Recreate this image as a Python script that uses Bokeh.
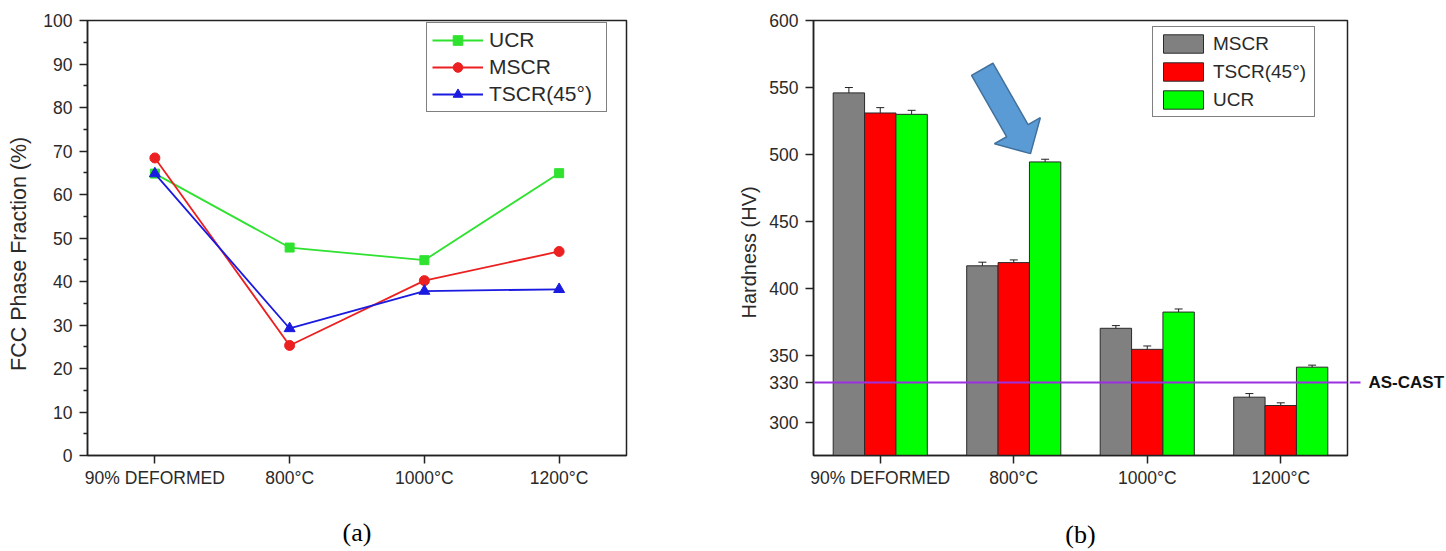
from bokeh.plotting import figure
from bokeh.layouts import row
from bokeh.models import (Range1d, FixedTicker, Legend, LegendItem, ColumnDataSource,
                          Whisker, TeeHead, Span)
from bokeh.embed import file_html
from bokeh.resources import INLINE
from bokeh.core.properties import value
import math

# ---------------- data ----------------
categories = ["90% DEFORMED", "800°C", "1000°C", "1200°C"]

# (a) FCC phase fraction (%)
fcc_ucr = [64.8, 47.8, 44.9, 64.9]
fcc_mscr = [68.4, 25.3, 40.2, 46.9]
fcc_tscr = [64.8, 29.2, 37.8, 38.2]
fcc_yticks = [0, 10, 20, 30, 40, 50, 60, 70, 80, 90, 100]

# (b) Hardness (HV)
hv_mscr = [546, 417, 370.4, 319]
hv_tscr = [531, 419.4, 354.7, 312.8]
hv_ucr = [530, 494.5, 382.5, 341.4]
hv_mscr_err = [4, 2.7, 2, 2.7]
hv_tscr_err = [4, 2, 2.5, 2]
hv_ucr_err = [3, 2, 2.3, 1.5]
hv_yticks = [300, 330, 350, 400, 450, 500, 550, 600]
AS_CAST = 330

FONT = "Liberation Sans"
SERIF = "Liberation Serif"
AX = "#222222"
TXT = "#2a2a2a"
H = 551

cat_x = list(range(len(categories)))
cat_labels = {i: c for i, c in enumerate(categories)}


def base_style(p):
    p.xgrid.visible = False
    p.ygrid.visible = False
    p.outline_line_color = AX
    p.outline_line_width = 1.5
    p.outline_line_alpha = 1.0
    p.background_fill_color = "white"
    p.border_fill_color = "white"
    for ax in p.xaxis + p.yaxis:
        ax.axis_line_color = AX
        ax.axis_line_width = 1.5
        ax.major_tick_line_color = AX
        ax.major_tick_line_width = 1.5
        ax.major_tick_out = 8
        ax.major_tick_in = 0
        ax.minor_tick_line_color = AX
        ax.minor_tick_line_width = 1.5
        ax.minor_tick_out = 4
        ax.minor_tick_in = 0
        ax.major_label_text_font = FONT
        ax.major_label_text_font_size = "17.5px"
        ax.major_label_text_color = TXT
    p.xaxis.ticker = FixedTicker(ticks=cat_x)
    p.xaxis.major_label_overrides = cat_labels
    p.xaxis.minor_tick_line_color = None
    p.xaxis.major_label_standoff = 4
    p.xaxis.axis_label_text_font = SERIF
    p.xaxis.axis_label_text_font_style = "normal"
    p.xaxis.axis_label_text_font_size = "26px"
    p.xaxis.axis_label_text_color = "black"
    p.yaxis.major_label_standoff = 7


def label_strip(width, top, bottom, text, cx, cy, size):
    """Narrow blank figure holding a rotated y-axis title; its frame matches the
    neighbouring plot's frame and its y range is in page pixels (flipped)."""
    s = figure(width=width, height=H, x_range=Range1d(0, width),
               y_range=Range1d(bottom, H - top),
               output_backend="svg", toolbar_location=None,
               x_axis_location=None, y_axis_location=None,
               min_border_left=0, min_border_right=0,
               min_border_top=top, min_border_bottom=bottom)
    s.xgrid.visible = False
    s.ygrid.visible = False
    s.outline_line_color = None
    s.text(x=[cx], y=[H - cy], text=[text], angle=math.pi / 2,
           text_font=value(FONT), text_font_size=size, text_color=TXT,
           text_align="center", text_baseline="middle")
    return s


# ---------------- (a) line chart ----------------
s1 = label_strip(40, 19, 92, "FCC Phase Fraction (%)", 18, 255, "21.5px")
p1 = figure(width=660, height=H, x_range=Range1d(-0.5, 3.5), y_range=Range1d(0, 100),
            output_backend="svg", toolbar_location=None,
            min_border_left=46, min_border_right=74, min_border_top=19, min_border_bottom=92)
base_style(p1)
p1.yaxis.ticker = FixedTicker(ticks=fcc_yticks, minor_ticks=[t + 5 for t in fcc_yticks[:-1]])
p1.xaxis.axis_label = "(a)"
p1.xaxis.axis_label_standoff = 27

c_green, c_red, c_blue = "#2fe22f", "#ec2020", "#1a1ae0"
l1 = p1.line(cat_x, fcc_ucr, line_color=c_green, line_width=1.8)
m1 = p1.scatter(cat_x, fcc_ucr, marker="square", size=9, color=c_green)
l2 = p1.line(cat_x, fcc_mscr, line_color=c_red, line_width=1.8)
m2 = p1.scatter(cat_x, fcc_mscr, marker="circle", size=10, color=c_red)
l3 = p1.line(cat_x, fcc_tscr, line_color=c_blue, line_width=1.8)
m3 = p1.scatter(cat_x, fcc_tscr, marker="triangle", size=11, color=c_blue)

leg1 = Legend(items=[LegendItem(label="UCR", renderers=[l1, m1]),
                     LegendItem(label="MSCR", renderers=[l2, m2]),
                     LegendItem(label="TSCR(45°)", renderers=[l3, m3])],
              location=(339, 343), orientation="vertical",
              border_line_color="#808080", border_line_width=1, border_line_alpha=1,
              padding=5, spacing=3, margin=0, glyph_width=51, glyph_height=24,
              label_standoff=6, label_width=112, label_text_font=FONT,
              label_text_font_size="21px", label_text_color=TXT,
              background_fill_color="white", background_fill_alpha=1)
p1.add_layout(leg1)

# ---------------- (b) bar chart ----------------
y0, y1 = 275.5, 600
s2 = label_strip(64, 20, 94, "Hardness (HV)", 48, 253, "20px")
p2 = figure(width=585, height=H, x_range=Range1d(-0.5, 3.5), y_range=Range1d(y0, y1),
            output_backend="svg", toolbar_location=None,
            min_border_left=49, min_border_right=2, min_border_top=20, min_border_bottom=94)
base_style(p2)
p2.yaxis.ticker = FixedTicker(ticks=hv_yticks, minor_ticks=[])
p2.xaxis.axis_label = "(b)"
p2.xaxis.axis_label_standoff = 29

bw = 0.235
series = [("MSCR", hv_mscr, hv_mscr_err, "#808080", -bw),
          ("TSCR(45°)", hv_tscr, hv_tscr_err, "#ff0000", 0.0),
          ("UCR", hv_ucr, hv_ucr_err, "#00ff00", bw)]
items2 = []
for name, vals, errs, col, off in series:
    xs = [i + off for i in cat_x]
    src = ColumnDataSource(dict(x=xs, top=vals,
                                upper=[v + e for v, e in zip(vals, errs)],
                                lower=[v - e for v, e in zip(vals, errs)]))
    r = p2.vbar(x="x", top="top", bottom=0, width=bw, source=src,
                fill_color=col, line_color="#2a2a2a", line_width=1)
    w = Whisker(base="x", upper="upper", lower="lower", source=src,
                line_color="#222222", line_width=1,
                upper_head=TeeHead(size=8, line_color="#222222", line_width=1),
                lower_head=TeeHead(size=8, line_color="#222222", line_width=1))
    p2.add_layout(w)
    items2.append(LegendItem(label=name, renderers=[r]))

p2.add_layout(Span(location=AS_CAST, dimension="width", line_color="#9b30e0", line_width=2))

# decorative block arrow (pointing at 800°C UCR bar), built in pixel space
fw = 534.0
fh = 437.0
sx = fw / 4.0
sy = fh / (y1 - y0)
tail = (0.764, 563.6)
tip = (1.1255, 500.7)
tpx = ((tail[0] + 0.5) * sx, (tail[1] - y0) * sy)
ppx = ((tip[0] + 0.5) * sx, (tip[1] - y0) * sy)
dx, dy = ppx[0] - tpx[0], ppx[1] - tpx[1]
L = (dx * dx + dy * dy) ** 0.5
ux, uy = dx / L, dy / L
nx, ny = -uy, ux
hw_shaft, hw_head, head_len = 12.3, 26.4, 26.5
bx, by = ppx[0] - ux * head_len, ppx[1] - uy * head_len
pts = [(tpx[0] + nx * hw_shaft, tpx[1] + ny * hw_shaft),
       (bx + nx * hw_shaft, by + ny * hw_shaft),
       (bx + nx * hw_head, by + ny * hw_head),
       ppx,
       (bx - nx * hw_head, by - ny * hw_head),
       (bx - nx * hw_shaft, by - ny * hw_shaft),
       (tpx[0] - nx * hw_shaft, tpx[1] - ny * hw_shaft)]
ax_ = [px / sx - 0.5 for px, _ in pts]
ay_ = [py / sy + y0 for _, py in pts]
p2.patch(ax_, ay_, fill_color="#5b9bd5", line_color="#41719c", line_width=1.5)

leg2 = Legend(items=items2, location=(339, 338), orientation="vertical",
              border_line_color="#808080", border_line_width=1, border_line_alpha=1,
              padding=5, spacing=5, margin=0, glyph_width=50, glyph_height=23,
              label_standoff=5, label_width=96, label_text_font=FONT,
              label_text_font_size="19px", label_text_color=TXT,
              background_fill_color="white", background_fill_alpha=1)
p2.add_layout(leg2)

# ---------------- right-side AS-CAST annotation strip ----------------
p3 = figure(width=97, height=H, x_range=Range1d(0, 97), y_range=Range1d(y0, y1),
            output_backend="svg", toolbar_location=None,
            x_axis_location=None, y_axis_location=None,
            min_border_left=0, min_border_right=0, min_border_top=20, min_border_bottom=94)
p3.xgrid.visible = False
p3.ygrid.visible = False
p3.outline_line_color = None
p3.segment(x0=[0], y0=[AS_CAST], x1=[11], y1=[AS_CAST], line_color="#9b30e0", line_width=2)
p3.text(x=[19], y=[AS_CAST], text=["AS-CAST"], text_font=value(FONT), text_font_style="bold",
        text_font_size="17px", text_baseline="middle", text_align="left", text_color="#111111")

layout = row(s1, p1, s2, p2, p3)
open("out.html", "w").write(file_html(layout, INLINE))
